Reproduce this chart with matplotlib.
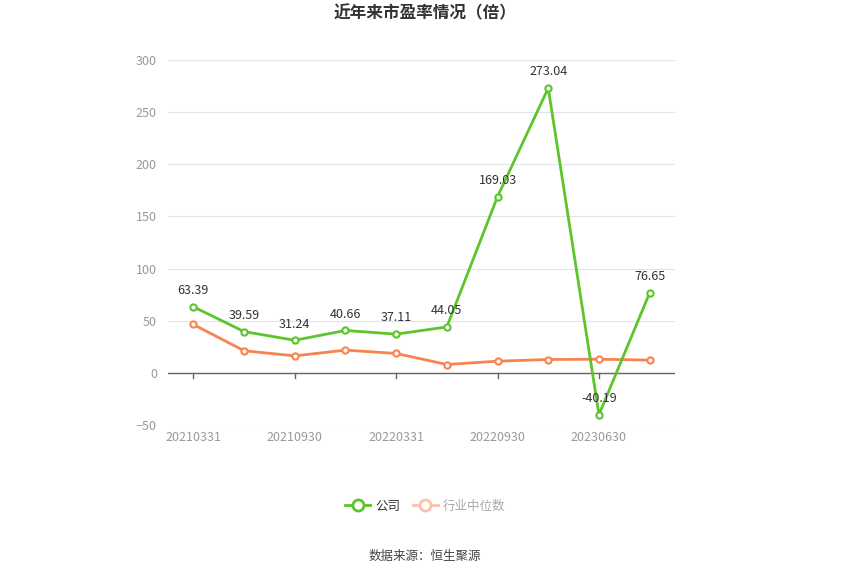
import matplotlib.pyplot as plt
from matplotlib.lines import Line2D

plt.rcParams['font.family'] = ['Noto Sans CJK SC', 'DejaVu Sans']

# report dates (every other one is labelled)
dates = ['20210331', '20210630', '20210930', '20211231', '20220331',
         '20220630', '20220930', '20221231', '20230630', '20230930']
company = [63.39, 39.59, 31.24, 40.66, 37.11, 44.05, 169.03, 273.04, -40.19, 76.65]
industry = [46.4, 21.2, 16.3, 21.8, 18.6, 8.0, 11.2, 12.8, 13.1, 12.2]

green = '#5cc52b'
orange = '#f7844f'

fig = plt.figure(figsize=(8.5, 5.74), dpi=100)
ax = fig.add_axes([168 / 850, (574 - 425) / 574, (675 - 168) / 850, (425 - 60) / 574])

x = list(range(len(dates)))
ax.plot(x, industry, color=orange, lw=2, marker='o', ms=4.5, mfc='white', mew=1.5, zorder=3)
ax.plot(x, company, color=green, lw=2, marker='o', ms=4.5, mfc='white', mew=1.5, zorder=4)

for i, v in enumerate(company):
    ax.annotate('%.2f' % v, (i, v), xytext=(0, 7), textcoords='offset points',
                ha='center', va='bottom', fontsize=9, color='#333333', zorder=5)

ax.set_xlim(-0.5, len(dates) - 0.5)
ax.set_ylim(-50, 300)
ax.set_yticks([-50, 0, 50, 100, 150, 200, 250, 300])
ax.grid(axis='y', color='#e0e4ee', lw=0.8)
ax.set_axisbelow(True)
for s in ['top', 'right', 'left', 'bottom']:
    ax.spines[s].set_visible(False)
ax.axhline(0, color='#666666', lw=1, zorder=2)
ax.tick_params(axis='y', length=0, labelsize=9, labelcolor='#999999', pad=8)

# x labels at bottom, tick marks hanging from the zero line
ax.set_xticks(x[::2])
ax.set_xticklabels(dates[::2])
ax.tick_params(axis='x', length=0, labelsize=9, labelcolor='#999999', pad=4)
for i in x[::2]:
    ax.plot([i, i], [0, -5], color='#666666', lw=1, zorder=2, clip_on=False)

fig.text(0.5, 1 - 13 / 574, '近年来市盈率情况（倍）', ha='center', va='center',
         fontsize=12, fontweight='bold', color='#333333')

handles = [Line2D([], [], color=green, lw=2, marker='o', ms=8, mfc='white', mew=2),
           Line2D([], [], color='#fbc2a6', lw=2, marker='o', ms=8, mfc='white', mew=2)]
leg = fig.legend(handles, ['公司', '行业中位数'], loc='center', bbox_to_anchor=(0.5, 1 - 506 / 574),
                 ncol=2, frameon=False, fontsize=9, handlelength=2.0, columnspacing=1.0,
                 handletextpad=0.4)
leg.get_texts()[0].set_color('#333333')
leg.get_texts()[1].set_color('#aaaaaa')

fig.text(0.5, 1 - 556 / 574, '数据来源：恒生聚源', ha='center', va='center',
         fontsize=9, color='#444444')

fig.savefig('out.png', dpi=100)
